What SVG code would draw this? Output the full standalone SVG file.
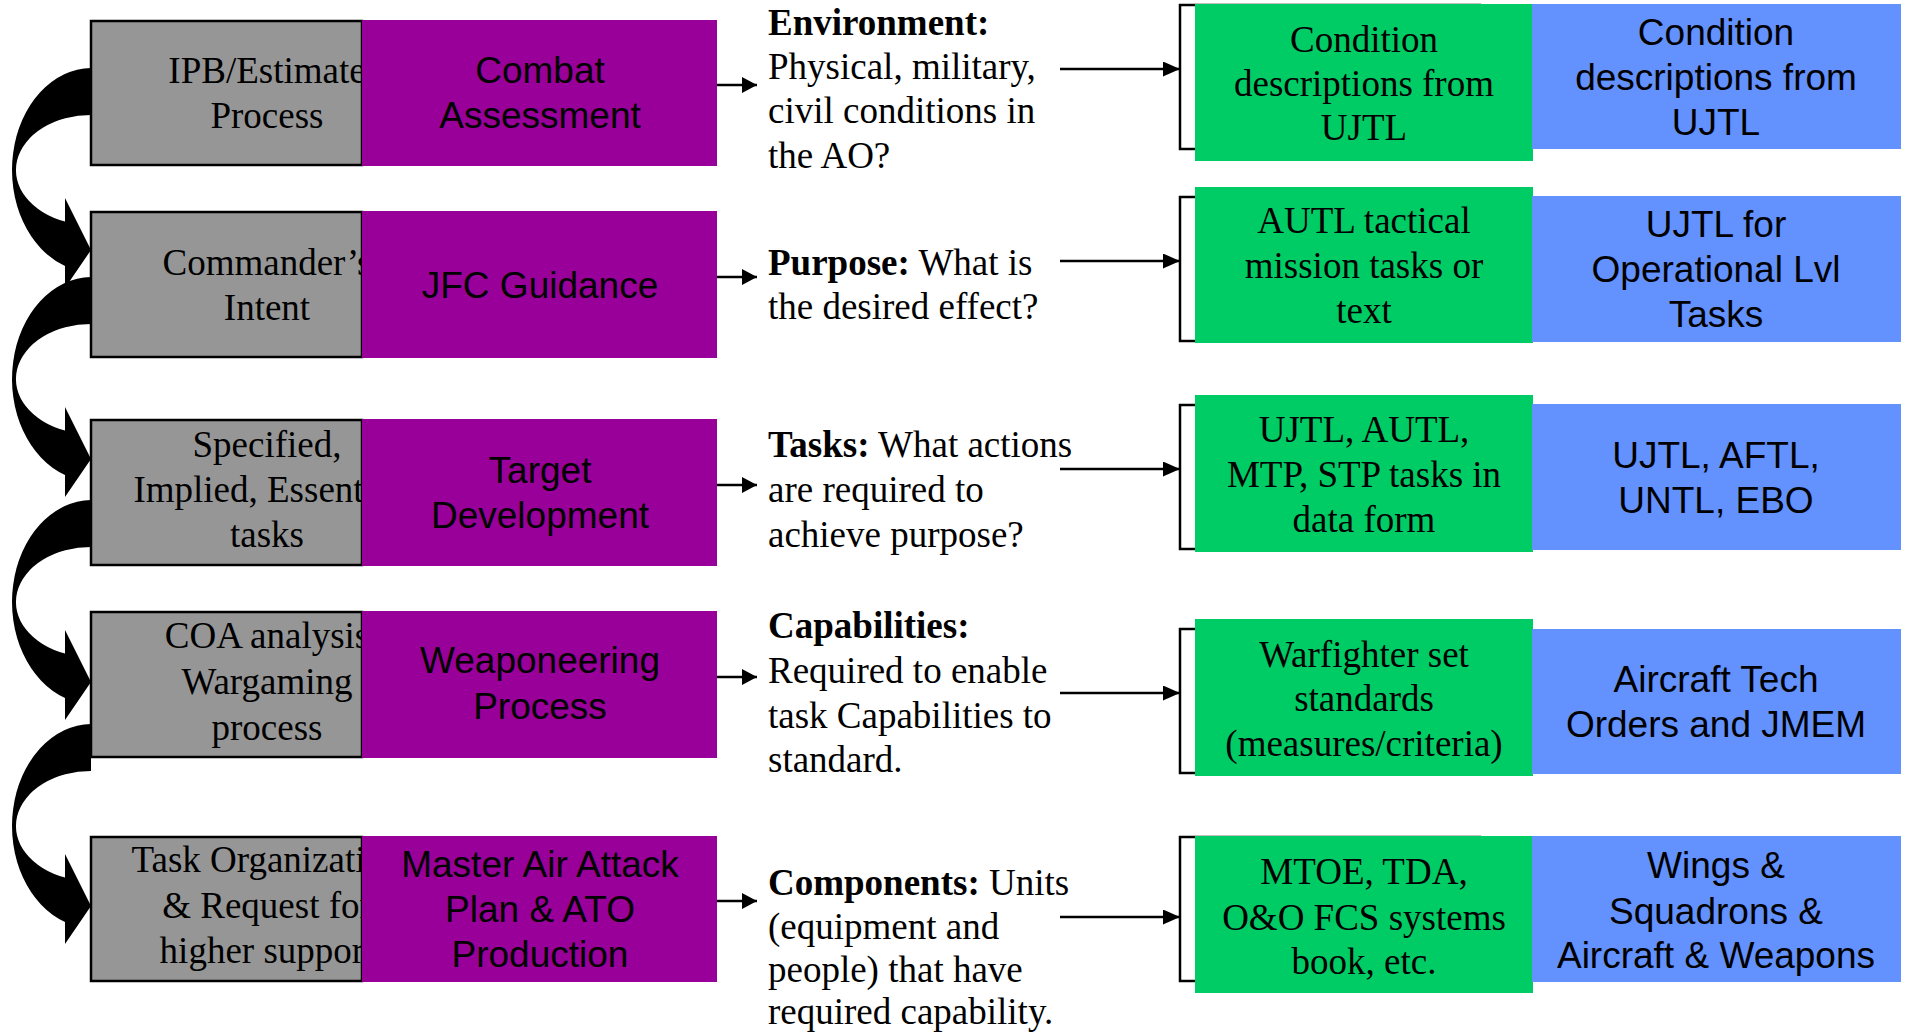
<svg xmlns="http://www.w3.org/2000/svg" width="1907" height="1033" viewBox="0 0 1907 1033">
<style>
.gray{fill:#969696;stroke:#000;stroke-width:2.5}
.purple{fill:#990099}
.green{fill:#00CC66}
.bracket{fill:none;stroke:#000;stroke-width:2.5}
.blue{fill:#6391FE}
.tr{font-family:"Liberation Serif","Times New Roman",serif;font-size:37px;fill:#000}
.ar{font-family:"Liberation Sans",Arial,sans-serif;font-size:37px;fill:#000}
.c{text-anchor:middle}
.b{font-weight:bold}
.ln{stroke:#000;stroke-width:2.5;fill:none}
.curve{fill:#000}
</style>
<defs>
<marker id="ahS" markerUnits="userSpaceOnUse" markerWidth="16" markerHeight="16" refX="15" refY="8" orient="auto"><path d="M0,0 L15,8 L0,16 z" fill="#000"/></marker>
<marker id="ahL" markerUnits="userSpaceOnUse" markerWidth="18" markerHeight="16" refX="17" refY="7.5" orient="auto"><path d="M0,0 L17,7.5 L0,15 z" fill="#000"/></marker>
<clipPath id="leftClip"><rect x="0" y="0" width="362" height="1033"/></clipPath>
</defs>

<g id="connectors">
<path class="curve" d="M91,68 A80,102 0 0 0 65,266 L65,288 L91,250 L65,198 L65,221.6 A75,55 0 0 1 91,115 Z"/>
<path class="curve" d="M91,277 A80,102 0 0 0 65,475 L65,497 L91,459 L65,407 L65,430.6 A75,55 0 0 1 91,324 Z"/>
<path class="curve" d="M91,500 A80,102 0 0 0 65,698 L65,720 L91,682 L65,630 L65,653.6 A75,55 0 0 1 91,547 Z"/>
<path class="curve" d="M91,724 A80,102 0 0 0 65,922 L65,944 L91,906 L65,854 L65,877.6 A75,55 0 0 1 91,771 Z"/>
<line class="ln" x1="717" y1="85" x2="757" y2="85" marker-end="url(#ahS)"/>
<line class="ln" x1="717" y1="277" x2="757" y2="277" marker-end="url(#ahS)"/>
<line class="ln" x1="717" y1="485" x2="757" y2="485" marker-end="url(#ahS)"/>
<line class="ln" x1="717" y1="677" x2="757" y2="677" marker-end="url(#ahS)"/>
<line class="ln" x1="717" y1="901" x2="757" y2="901" marker-end="url(#ahS)"/>
<line class="ln" x1="1060" y1="69" x2="1180" y2="69" marker-end="url(#ahL)"/>
<line class="ln" x1="1060" y1="261" x2="1180" y2="261" marker-end="url(#ahL)"/>
<line class="ln" x1="1060" y1="469" x2="1180" y2="469" marker-end="url(#ahL)"/>
<line class="ln" x1="1060" y1="693" x2="1180" y2="693" marker-end="url(#ahL)"/>
<line class="ln" x1="1060" y1="917" x2="1180" y2="917" marker-end="url(#ahL)"/>
</g>

<!-- Row 1 -->
<g id="gray1">
<rect class="gray" x="91" y="21" width="271" height="144"/>
<g clip-path="url(#leftClip)"><text class="tr c" x="267" y="83">IPB/Estimate</text><text class="tr c" x="267" y="128">Process</text></g>
</g>
<g id="purple1">
<rect class="purple" x="362" y="20" width="355" height="146"/>
<text class="ar c" x="540" y="83">Combat</text><text class="ar c" x="540" y="128">Assessment</text>
</g>
<g id="text1">
<text class="tr b" x="768" y="35">Environment:</text>
<text class="tr" x="768" y="79">Physical, military,</text>
<text class="tr" x="768" y="123">civil conditions in</text>
<text class="tr" x="768" y="168">the AO?</text>
</g>
<g id="green1">
<rect class="bracket" x="1180" y="5" width="300" height="144"/>
<rect class="green" x="1195" y="4" width="338" height="157"/>
<text class="tr c" x="1364" y="52">Condition</text><text class="tr c" x="1364" y="96">descriptions from</text><text class="tr c" x="1364" y="140">UJTL</text>
</g>
<g id="blue1">
<rect class="blue" x="1532" y="4" width="369" height="145"/>
<text class="ar c" x="1716" y="45">Condition</text><text class="ar c" x="1716" y="90">descriptions from</text><text class="ar c" x="1716" y="135">UJTL</text>
</g>

<!-- Row 2 -->
<g id="gray2">
<rect class="gray" x="91" y="212" width="271" height="145"/>
<g clip-path="url(#leftClip)"><text class="tr c" x="267" y="275">Commander’s</text><text class="tr c" x="267" y="320">Intent</text></g>
</g>
<g id="purple2">
<rect class="purple" x="362" y="211" width="355" height="147"/>
<text class="ar c" x="540" y="298">JFC Guidance</text>
</g>
<g id="text2">
<text class="tr" x="768" y="275"><tspan class="b">Purpose:</tspan> What is</text>
<text class="tr" x="768" y="319">the desired effect?</text>
</g>
<g id="green2">
<rect class="bracket" x="1180" y="197" width="300" height="144"/>
<rect class="green" x="1195" y="187" width="338" height="156"/>
<text class="tr c" x="1364" y="233">AUTL tactical</text><text class="tr c" x="1364" y="278">mission tasks or</text><text class="tr c" x="1364" y="323">text</text>
</g>
<g id="blue2">
<rect class="blue" x="1532" y="196" width="369" height="146"/>
<text class="ar c" x="1716" y="237">UJTL for</text><text class="ar c" x="1716" y="282">Operational Lvl</text><text class="ar c" x="1716" y="327">Tasks</text>
</g>

<!-- Row 3 -->
<g id="gray3">
<rect class="gray" x="91" y="420" width="271" height="145"/>
<g clip-path="url(#leftClip)"><text class="tr c" x="267" y="457">Specified,</text><text class="tr c" x="267" y="502">Implied, Essential</text><text class="tr c" x="267" y="547">tasks</text></g>
</g>
<g id="purple3">
<rect class="purple" x="362" y="419" width="355" height="147"/>
<text class="ar c" x="540" y="483">Target</text><text class="ar c" x="540" y="528">Development</text>
</g>
<g id="text3">
<text class="tr" x="768" y="457"><tspan class="b">Tasks:</tspan> What actions</text>
<text class="tr" x="768" y="502">are required to</text>
<text class="tr" x="768" y="547">achieve purpose?</text>
</g>
<g id="green3">
<rect class="bracket" x="1180" y="405" width="300" height="144"/>
<rect class="green" x="1195" y="395" width="338" height="157"/>
<text class="tr c" x="1364" y="442">UJTL, AUTL,</text><text class="tr c" x="1364" y="487">MTP, STP tasks in</text><text class="tr c" x="1364" y="532">data form</text>
</g>
<g id="blue3">
<rect class="blue" x="1532" y="404" width="369" height="146"/>
<text class="ar c" x="1716" y="468">UJTL, AFTL,</text><text class="ar c" x="1716" y="513">UNTL, EBO</text>
</g>

<!-- Row 4 -->
<g id="gray4">
<rect class="gray" x="91" y="612" width="271" height="145"/>
<g clip-path="url(#leftClip)"><text class="tr c" x="267" y="648">COA analysis</text><text class="tr c" x="267" y="694">Wargaming</text><text class="tr c" x="267" y="740">process</text></g>
</g>
<g id="purple4">
<rect class="purple" x="362" y="611" width="355" height="147"/>
<text class="ar c" x="540" y="673">Weaponeering</text><text class="ar c" x="540" y="719">Process</text>
</g>
<g id="text4">
<text class="tr b" x="768" y="638">Capabilities:</text>
<text class="tr" x="768" y="683">Required to enable</text>
<text class="tr" x="768" y="728">task Capabilities to</text>
<text class="tr" x="768" y="772">standard.</text>
</g>
<g id="green4">
<rect class="bracket" x="1180" y="629" width="300" height="144"/>
<rect class="green" x="1195" y="619" width="338" height="157"/>
<text class="tr c" x="1364" y="667">Warfighter set</text><text class="tr c" x="1364" y="711">standards</text><text class="tr c" x="1364" y="756">(measures/criteria)</text>
</g>
<g id="blue4">
<rect class="blue" x="1532" y="629" width="369" height="145"/>
<text class="ar c" x="1716" y="692">Aircraft Tech</text><text class="ar c" x="1716" y="737">Orders and JMEM</text>
</g>

<!-- Row 5 -->
<g id="gray5">
<rect class="gray" x="91" y="837" width="271" height="144"/>
<g clip-path="url(#leftClip)"><text class="tr c" x="267" y="872">Task Organization</text><text class="tr c" x="267" y="918">&amp; Request for</text><text class="tr c" x="267" y="963">higher support</text></g>
</g>
<g id="purple5">
<rect class="purple" x="362" y="836" width="355" height="146"/>
<text class="ar c" x="540" y="877">Master Air Attack</text><text class="ar c" x="540" y="922">Plan &amp; ATO</text><text class="ar c" x="540" y="967">Production</text>
</g>
<g id="text5">
<text class="tr" x="768" y="895"><tspan class="b">Components:</tspan> Units</text>
<text class="tr" x="768" y="939">(equipment and</text>
<text class="tr" x="768" y="982">people) that have</text>
<text class="tr" x="768" y="1024">required capability.</text>
</g>
<g id="green5">
<rect class="bracket" x="1180" y="837" width="300" height="144"/>
<rect class="green" x="1195" y="836" width="338" height="157"/>
<text class="tr c" x="1364" y="884">MTOE, TDA,</text><text class="tr c" x="1364" y="930">O&amp;O FCS systems</text><text class="tr c" x="1364" y="974">book, etc.</text>
</g>
<g id="blue5">
<rect class="blue" x="1532" y="836" width="369" height="146"/>
<text class="ar c" x="1716" y="878">Wings &amp;</text><text class="ar c" x="1716" y="924">Squadrons &amp;</text><text class="ar c" x="1716" y="968">Aircraft &amp; Weapons</text>
</g>
</svg>
